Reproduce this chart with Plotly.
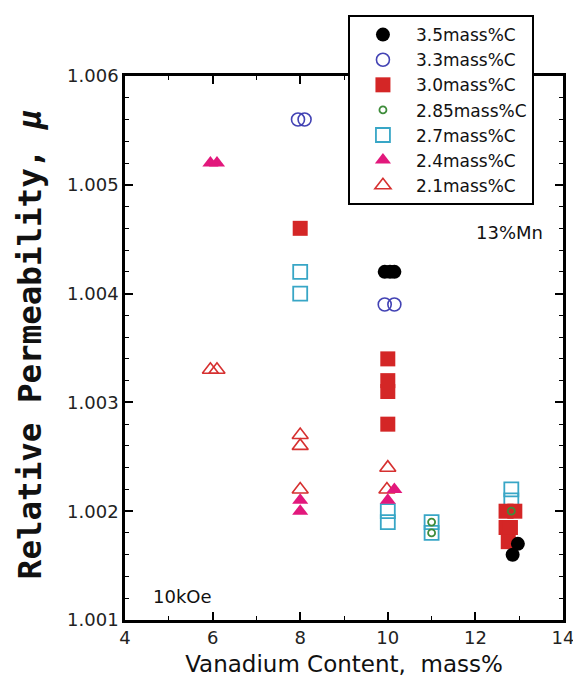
import plotly.graph_objects as go

# ---- data ----
c35_x = [9.93, 10.05, 10.15, 12.85, 12.97]
c35_y = [1.0042, 1.0042, 1.0042, 1.0016, 1.0017]

c33_x = [7.95, 8.1, 9.93, 10.15]
c33_y = [1.0056, 1.0056, 1.0039, 1.0039]

c30_x = [8.0, 10.0, 10.0, 10.0, 10.0, 12.7, 12.9, 12.7, 12.8, 12.75]
c30_y = [1.0046, 1.0034, 1.0032, 1.0031, 1.0028, 1.0020, 1.0020, 1.00185, 1.00185, 1.00172]

c285_x = [11.0, 11.0, 12.82]
c285_y = [1.0019, 1.0018, 1.0020]

c27_x = [8.0, 8.0, 10.0, 10.0, 11.0, 11.0, 12.82, 12.82]
c27_y = [1.0042, 1.0040, 1.0020, 1.0019, 1.0019, 1.0018, 1.0022, 1.0021]

c24_x = [5.95, 6.1, 8.0, 8.0, 10.15, 10.0]
c24_y = [1.0052, 1.0052, 1.0021, 1.0020, 1.0022, 1.0021]

c21_x = [5.95, 6.1, 8.0, 8.0, 8.0, 10.0, 9.98]
c21_y = [1.0033, 1.0033, 1.0027, 1.0026, 1.0022, 1.0024, 1.0022]

labels = ["3.5mass%C", "3.3mass%C", "3.0mass%C", "2.85mass%C",
          "2.7mass%C", "2.4mass%C", "2.1mass%C"]

x_ticks = [4, 6, 8, 10, 12, 14]
y_ticks = [1.001, 1.002, 1.003, 1.004, 1.005, 1.006]

BLACK = "#000000"
BLUE = "#4343b4"
RED = "#d42626"
GREEN = "#3e8c3a"
CYAN = "#38a6c6"
PINK = "#e2187c"
RED2 = "#d63030"

FONT = "DejaVu Sans"

fig = go.Figure()

# draw order (bottom to top), legend order via legendrank
fig.add_trace(go.Scatter(x=c21_x, y=c21_y, mode="markers", name=labels[6], legendrank=7,
    marker=dict(symbol="triangle-up-open", size=14, color=RED2, line=dict(width=1.6, color=RED2))))
fig.add_trace(go.Scatter(x=c27_x, y=c27_y, mode="markers", name=labels[4], legendrank=5,
    marker=dict(symbol="square-open", size=14, color=CYAN, line=dict(width=1.8, color=CYAN))))
fig.add_trace(go.Scatter(x=c24_x, y=c24_y, mode="markers", name=labels[5], legendrank=6,
    marker=dict(symbol="triangle-up", size=14, color=PINK)))
fig.add_trace(go.Scatter(x=c30_x, y=c30_y, mode="markers", name=labels[2], legendrank=3,
    marker=dict(symbol="square", size=15, color=RED)))
fig.add_trace(go.Scatter(x=c285_x, y=c285_y, mode="markers", name=labels[3], legendrank=4,
    marker=dict(symbol="circle-open", size=7, color=GREEN, line=dict(width=1.8, color=GREEN))))
fig.add_trace(go.Scatter(x=c33_x, y=c33_y, mode="markers", name=labels[1], legendrank=2,
    marker=dict(symbol="circle-open", size=13, color=BLUE, line=dict(width=1.6, color=BLUE))))
fig.add_trace(go.Scatter(x=c35_x, y=c35_y, mode="markers", name=labels[0], legendrank=1,
    marker=dict(symbol="circle", size=14, color=BLACK)))

axis_common = dict(
    showline=True, linewidth=2.5, linecolor="black", mirror="ticks",
    ticks="inside", ticklen=8, tickwidth=1.5, tickcolor="black",
    showgrid=False, zeroline=False, ticklabeloverflow="allow",
    tickfont=dict(family=FONT, size=18, color="#222222"),
)

fig.update_xaxes(
    range=[4, 14], tickvals=x_ticks, ticktext=[str(v) for v in x_ticks],
    minor=dict(ticks="inside", dtick=1, ticklen=4, tickwidth=1.2, tickcolor="black"),
    title=dict(text="Vanadium Content,\u00a0 mass%", font=dict(family=FONT, size=23, color="#111111"),
               standoff=9),
    **axis_common,
)
fig.update_yaxes(
    range=[1.001, 1.006], tickvals=y_ticks, ticktext=[f"{v:.3f}" for v in y_ticks],
    minor=dict(ticks="inside", dtick=0.0002, ticklen=4, tickwidth=1.2, tickcolor="black"),
    **axis_common,
)

fig.add_annotation(text="Relative Permeability, <i>μ</i>", textangle=-90,
    xref="paper", yref="paper", x=-0.217, y=0.507, xanchor="center", yanchor="middle",
    showarrow=False, font=dict(family="DejaVu Sans Mono", size=32.5, color="#111111", weight="bold"))
fig.add_annotation(text="13%Mn", xref="paper", yref="paper", x=0.877, y=0.713,
    xanchor="center", yanchor="middle", showarrow=False,
    font=dict(family=FONT, size=18, color="#111111"))
fig.add_annotation(text="10kOe", xref="paper", yref="paper", x=0.131, y=0.044,
    xanchor="center", yanchor="middle", showarrow=False,
    font=dict(family=FONT, size=18, color="#111111"))

fig.update_layout(
    width=573, height=684,
    margin=dict(l=125, r=10, t=76, b=64, autoexpand=False),
    paper_bgcolor="white", plot_bgcolor="white",
    showlegend=True,
    legend=dict(x=0.509, y=1.112, xanchor="left", yanchor="top",
                bgcolor="white", bordercolor="black", borderwidth=2,
                font=dict(family=FONT, size=17, color="#111111"),
                itemwidth=56, tracegroupgap=0),
)

fig.write_html("out.html")
